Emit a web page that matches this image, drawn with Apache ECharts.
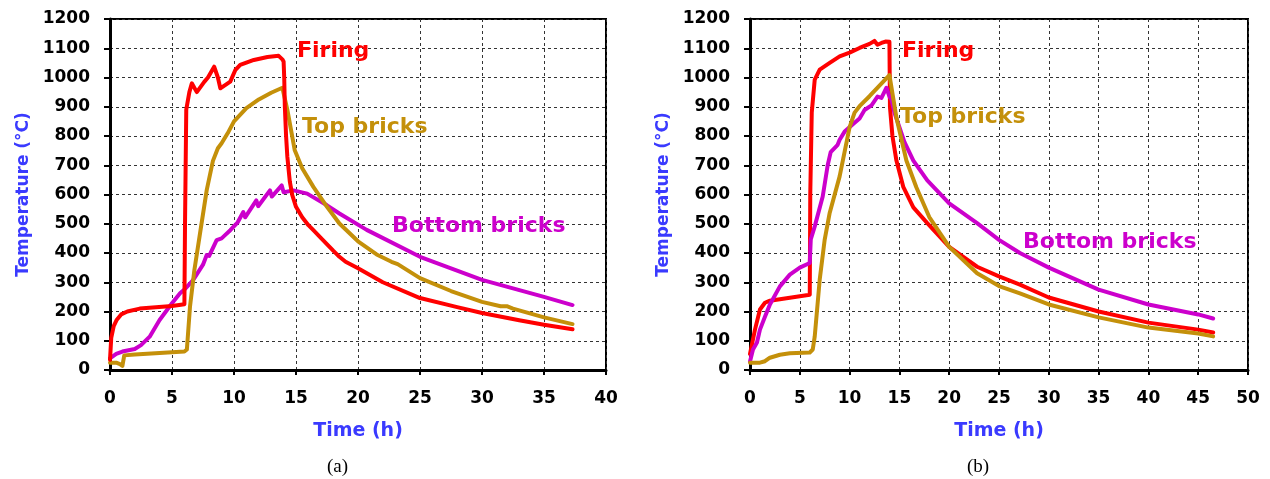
<!DOCTYPE html>
<html>
<head>
<meta charset="utf-8">
<script src="https://cdn.jsdelivr.net/npm/echarts@6/dist/echarts.min.js"></script>
<style>
html,body{margin:0;padding:0;background:#fff;}
#c{width:1270px;height:479px;}
</style>
</head>
<body>
<div id="c"></div>
<script>
// ---------- Data (a) ----------
var aFiringT = [0, 0.1, 0.3, 0.55, 0.9, 1.4, 2.4, 5, 6.0, 6.05, 6.15, 6.4, 6.6, 7.0, 7.6, 7.9, 8.4, 8.5, 8.7, 8.9, 9.7, 10.1, 10.5, 11.6, 12.7, 13.6, 13.9, 14.0, 14.05, 14.1, 14.2, 14.3, 14.5, 14.7, 15.0, 15.5, 16.0, 16.4, 17.0, 18.0, 18.5, 19.0, 20.0, 22.0, 25.0, 28.0, 30.0, 33.0, 35.0, 37.3];
var aFiringV = [35, 110, 150, 172, 190, 200, 210, 219, 225, 500, 890, 950, 980, 950, 985, 1000, 1037, 1043, 1000, 963, 986, 1025, 1043, 1060, 1070, 1074, 1062, 1055, 1000, 900, 800, 730, 645, 598, 558, 522, 495, 478, 452, 408, 387, 370, 348, 300, 246, 215, 195, 170, 155, 139];

var aTopT = [0, 0.5, 0.8, 1.0, 1.15, 2, 4, 6, 6.2, 6.45, 6.8, 7.26, 7.8, 8.3, 8.7, 9, 9.5, 10, 11, 12, 13, 13.9, 14.3, 14.9, 15.5, 16.4, 17.5, 18.5, 20, 21.5, 22.7, 23.2, 25, 27.5, 30, 31.5, 32, 32.5, 35, 37.3];
var aTopV = [25, 25, 20, 14, 50, 53, 58, 63, 70, 216, 340, 467, 615, 715, 758, 775, 810, 850, 895, 925, 948, 965, 890, 751, 690, 626, 558, 501, 440, 395, 370, 362, 314, 270, 233, 218, 218, 210, 180, 157];

var aBottomT = [0, 0.5, 1, 2, 2.5, 3.2, 4, 5, 5.65, 6, 6.7, 7.5, 7.8, 8.0, 8.6, 9.0, 9.3, 9.7, 10.3, 10.75, 10.9, 11.8, 11.95, 12.9, 13.05, 13.85, 14.0, 14.8, 15.9, 17.5, 18.5, 20.7, 25, 30, 35, 37.3];
var aBottomV = [40, 55, 63, 72, 85, 114, 171, 228, 262, 275, 307, 360, 393, 390, 444, 450, 462, 478, 505, 540, 522, 580, 560, 614, 593, 631, 608, 614, 603, 563, 535, 479, 387, 308, 250, 222];

// ---------- Data (b) ----------
var bFiringT = [0, 0.5, 1, 1.5, 2, 4, 6, 6.05, 6.2, 6.5, 7, 8, 9, 10, 11, 12, 12.5, 12.8, 13.2, 13.6, 14, 14.05, 14.3, 14.7, 15.4, 16.4, 17.8, 20, 22.8, 25, 27.1, 30, 35, 40, 45, 46.5];
var bFiringV = [55, 138, 207, 230, 237, 247, 257, 600, 880, 993, 1027, 1050, 1072, 1085, 1101, 1115, 1125, 1112, 1118, 1123, 1122, 900, 800, 716, 625, 556, 502, 421, 353, 320, 292, 248, 200, 162, 138, 128];

var bTopT = [0, 1, 1.5, 2, 3, 4, 6, 6.3, 6.5, 7, 7.5, 8, 9, 10, 10.5, 11, 12, 13, 14, 14.7, 15.7, 16.7, 18, 20, 22.8, 25, 27.1, 30, 35, 40, 45, 46.5];
var bTopV = [25, 25, 30, 42, 52, 57, 60, 70, 115, 309, 446, 537, 662, 830, 880, 902, 936, 972, 1008, 863, 716, 625, 523, 421, 331, 287, 262, 224, 180, 145, 125, 115];

var bBottomT = [0, 0.3, 0.7, 1, 1.5, 2, 3, 4, 5, 6, 6.1, 6.5, 7.3, 7.8, 8.1, 8.3, 8.8, 9, 9.5, 10.5, 11, 11.5, 12.2, 12.8, 13.2, 13.7, 14.0, 14.2, 14.5, 15, 15.5, 16.4, 17.8, 20, 22.8, 25, 27.1, 30, 35, 40, 45, 46.5];
var bBottomV = [29, 70, 94, 138, 182, 224, 286, 326, 350, 366, 446, 491, 593, 700, 745, 742, 770, 787, 815, 845, 860, 889, 905, 935, 930, 965, 935, 925, 880, 830, 780, 716, 648, 570, 502, 445, 400, 350, 275, 224, 190, 176];

// ---------- Axis ticks ----------
var yTicks = [0, 1200, 100];
var xTicksA = [0, 40, 5];
var xTicksB = [0, 50, 5];

var labels = {
  firing: 'Firing', top: 'Top bricks', bottom: 'Bottom bricks',
  yName: 'Temperature (°C)', xName: 'Time (h)', capA: '(a)', capB: '(b)'
};

function zip(t, v) { return t.map(function (x, i) { return [x, v[i]]; }); }

var RED = '#ff0000', GOLD = '#c4900a', MAG = '#cc00cc', BLUE = '#3a3aff';
var FONT = 'DejaVu Sans';

function xAxis(idx, ticks) {
  return {
    type: 'value', gridIndex: idx, min: ticks[0], max: ticks[1], interval: ticks[2],
    name: labels.xName, nameLocation: 'middle', nameGap: 52,
    nameTextStyle: { color: BLUE, fontFamily: FONT, fontWeight: 'bold', fontSize: 19 },
    axisLine: { lineStyle: { color: '#000', width: 3 } },
    axisTick: { show: true, inside: false, length: 5, lineStyle: { color: '#000', width: 2 } },
    axisLabel: { color: '#000', fontFamily: FONT, fontWeight: 'bold', fontSize: 17, margin: 20,
      formatter: function (v) { return String(v); } },
    splitLine: { show: true, lineStyle: { color: '#333', width: 1, type: [3, 3] } }
  };
}
function yAxis(idx) {
  return {
    type: 'value', gridIndex: idx, min: yTicks[0], max: yTicks[1], interval: yTicks[2],
    name: labels.yName, nameLocation: 'middle', nameGap: 78, nameRotate: 90,
    nameTextStyle: { color: BLUE, fontFamily: FONT, fontWeight: 'bold', fontSize: 17 },
    axisLine: { show: true, lineStyle: { color: '#000', width: 3 } },
    axisTick: { show: true, inside: false, length: 6, lineStyle: { color: '#000', width: 2 } },
    axisLabel: { color: '#000', fontFamily: FONT, fontWeight: 'bold', fontSize: 17, margin: 20,
      formatter: function (v) { return String(v); } },
    splitLine: { show: true, lineStyle: { color: '#333', width: 1, type: [3, 3] } }
  };
}
function line(name, data, color, idx) {
  return {
    name: name, type: 'line', xAxisIndex: idx, yAxisIndex: idx, data: data,
    showSymbol: false, symbol: 'none', smooth: false,
    lineStyle: { color: color, width: 4, join: 'round', cap: 'round' }, itemStyle: { color: color }, z: 3
  };
}
function ann(text, left, top, color, size) {
  return { text: text, left: left, top: top,
    textStyle: { color: color, fontFamily: FONT, fontWeight: 'bold', fontSize: size || 22 } };
}

var chart = echarts.init(document.getElementById('c'), null, { renderer: 'canvas' });
chart.setOption({
  animation: false,
  backgroundColor: '#fff',
  grid: [
    { left: 110, top: 19, width: 496, height: 351, show: true, borderColor: '#000', borderWidth: 2, backgroundColor: 'transparent' },
    { left: 750, top: 19, width: 498, height: 351, show: true, borderColor: '#000', borderWidth: 2, backgroundColor: 'transparent' }
  ],
  xAxis: [xAxis(0, xTicksA), xAxis(1, xTicksB)],
  yAxis: [yAxis(0), yAxis(1)],
  title: [
    ann(labels.firing, 292, 35, RED),
    ann(labels.top, 297, 111, GOLD),
    ann(labels.bottom, 387, 210, MAG),
    ann(labels.firing, 897, 35, RED),
    ann(labels.top, 895, 101, GOLD),
    ann(labels.bottom, 1018, 226, MAG),
    { text: labels.capA, left: 322, top: 453, textStyle: { color: '#000', fontFamily: 'Liberation Serif', fontWeight: 'normal', fontSize: 19 } },
    { text: labels.capB, left: 962, top: 453, textStyle: { color: '#000', fontFamily: 'Liberation Serif', fontWeight: 'normal', fontSize: 19 } }
  ],
  series: [
    line('Bottom bricks (a)', zip(aBottomT, aBottomV), MAG, 0),
    line('Top bricks (a)', zip(aTopT, aTopV), GOLD, 0),
    line('Firing (a)', zip(aFiringT, aFiringV), RED, 0),
    line('Firing (b)', zip(bFiringT, bFiringV), RED, 1),
    line('Bottom bricks (b)', zip(bBottomT, bBottomV), MAG, 1),
    line('Top bricks (b)', zip(bTopT, bTopV), GOLD, 1)
  ]
});
</script>
</body>
</html>
